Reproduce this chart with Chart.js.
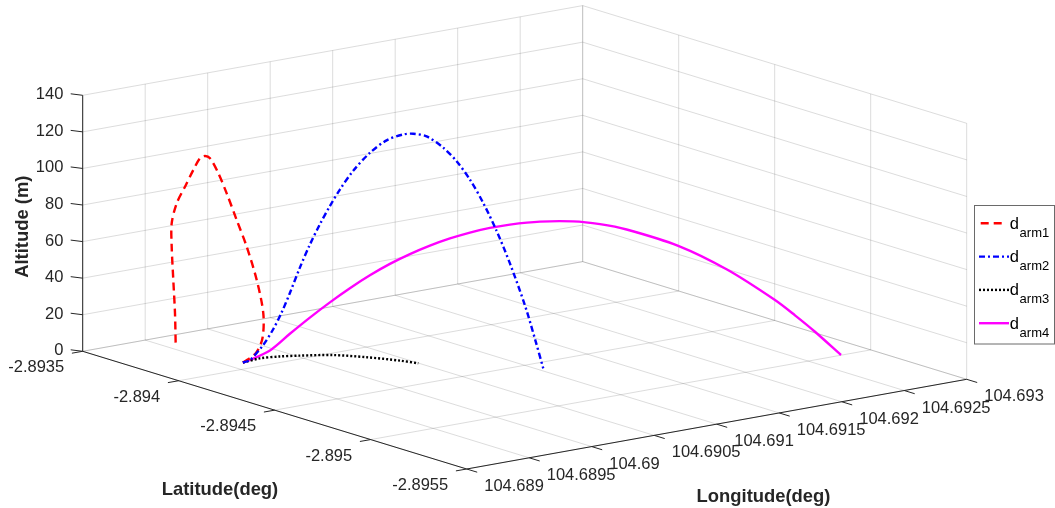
<!DOCTYPE html>
<html>
<head>
<meta charset="utf-8">
<script src="https://cdn.jsdelivr.net/npm/chart.js@4.4.1/dist/chart.umd.min.js"></script>
<style>
html,body{margin:0;padding:0;background:#ffffff;}
#wrap{position:relative;width:1055px;height:508px;}
</style>
</head>
<body>
<div id="wrap"><canvas id="c"></canvas></div>
<script>
// ---------- axis ticks ----------
const latTicks = [-2.8935, -2.894, -2.8945, -2.895, -2.8955];
const latTickLabels = ['-2.8935', '-2.894', '-2.8945', '-2.895', '-2.8955'];
const lonTicks = [104.689, 104.6895, 104.69, 104.6905, 104.691, 104.6915, 104.692, 104.6925, 104.693];
const lonTickLabels = ['104.689', '104.6895', '104.69', '104.6905', '104.691', '104.6915', '104.692', '104.6925', '104.693'];
const altTicks = [0, 20, 40, 60, 80, 100, 120, 140];
const altTickLabels = ['0', '20', '40', '60', '80', '100', '120', '140'];

const latTitle = 'Latitude(deg)';
const lonTitle = 'Longitude(deg)';
const altTitle = 'Altitude (m)';

// ---------- legend ----------
const legendMain = 'd';
const legendSubs = ['arm1', 'arm2', 'arm3', 'arm4'];

// ---------- series (latitude, longitude, altitude) ----------
const arm1Lat = [-2.8939284,-2.8939979,-2.8940335,-2.8940394,-2.8940068,-2.8939565,-2.8939061,-2.8938558,-2.8938138,-2.8937723,-2.8937481,-2.8937238,-2.8936907,-2.8936492,-2.8936077,-2.8935834,-2.8935852,-2.8935953,-2.8936059,-2.8936113];
const arm1Lon = [104.6896244,104.6896217,104.689619,104.6896163,104.6896136,104.6896109,104.6896082,104.6896055,104.6896028,104.6896001,104.6895974,104.6895947,104.689592,104.6895892,104.6895865,104.6895838,104.6895811,104.6895784,104.6895757,104.689573];
const arm1Alt = [0,7.5,16.9,30.6,47.8,64.4,77.4,90.4,100.1,107.0,107.5,105.5,98.0,87.6,77.2,65.5,52.8,35.0,17.1,0];

const arm2Lat = [-2.893928,-2.8939429,-2.8939713,-2.8939926,-2.8940105,-2.8940282,-2.8940495,-2.8940708,-2.8940921,-2.8941134,-2.8941347,-2.8941631,-2.8941987,-2.8942342,-2.8942696,-2.8942909,-2.8943195,-2.8943549,-2.8943834,-2.8944118,-2.8944401,-2.8944687,-2.894497,-2.894529,-2.8945503,-2.894568];
const arm2Lon = [104.689624,104.6896571,104.68972,104.6897673,104.689807,104.6898462,104.6898935,104.6899408,104.6899881,104.6900354,104.6900827,104.6901456,104.6902245,104.6903035,104.690382,104.6904293,104.6904926,104.6905711,104.6906345,104.6906974,104.6907603,104.6908236,104.6908865,104.6909575,104.6910048,104.691044];
const arm2Alt = [0,1.4,9.8,18.5,27.7,38.5,52.5,65.2,76.4,86.5,95.6,106.0,116.0,123.0,126.4,126.9,125.6,119.6,112.3,102.4,89.8,74.6,57.0,34.2,16.0,0];

const arm3Lat = [-2.893928,-2.8939616,-2.894001,-2.8940405,-2.8941055,-2.8941723,-2.894238,-2.894274];
const arm3Lon = [104.689624,104.6897086,104.689808,104.6899074,104.6900713,104.6902396,104.6904053,104.690496];
const arm3Alt = [0,2.3,3.4,3.9,4.3,3.2,1.4,0];

const arm4Lat = [-2.893928,-2.8939405,-2.8939764,-2.8940121,-2.8940478,-2.8940837,-2.8941194,-2.8941552,-2.894191,-2.8942268,-2.8942625,-2.8942984,-2.8943341,-2.8943698,-2.8944057,-2.8944594,-2.8945183,-2.8945667,-2.8946144,-2.8947067,-2.8947939,-2.8948797,-2.8949155,-2.8949513,-2.8949978];
const arm4Lon = [104.689624,104.6896608,104.689766,104.6898709,104.6899759,104.6900811,104.6901861,104.6902913,104.6903963,104.6905015,104.6906064,104.6907117,104.6908166,104.6909216,104.6910268,104.6911845,104.6913576,104.6914997,104.6916398,104.6919109,104.692167,104.692419,104.6925242,104.6926291,104.6927658];
const arm4Alt = [0,1.3,6.4,15.4,24.1,32.3,39.9,46.8,52.9,58.1,62.6,66.4,69.5,71.9,73.6,75.0,74.9,73.2,70.1,60.8,47.5,30.5,22.0,12.9,0];

// ---------- view geometry (orthographic 3-D view) ----------
const VIEW = { ox: 82.7, oy: 351.3, latDx: 384, latDy: 117.7, lonDx: 500, lonDy: -89.7, altDy: -256 };
const LAT0 = latTicks[0], LAT1 = latTicks[latTicks.length - 1];
const LON0 = lonTicks[0], LON1 = lonTicks[lonTicks.length - 1];
const ALT0 = altTicks[0], ALT1 = altTicks[altTicks.length - 1];

function proj(lat, lon, alt) {
  const a = (lat - LAT0) / (LAT1 - LAT0);
  const b = (lon - LON0) / (LON1 - LON0);
  const c = (alt - ALT0) / (ALT1 - ALT0);
  return { x: VIEW.ox + VIEW.latDx * a + VIEW.lonDx * b,
           y: VIEW.oy + VIEW.latDy * a + VIEW.lonDy * b + VIEW.altDy * c };
}

const GRID = 'rgba(38,38,38,0.16)';
const AXIS = '#262626';

function seg(p, q, color, width, order) {
  return { data: [p, q], showLine: true, borderColor: color, borderWidth: width,
           pointRadius: 0, pointHoverRadius: 0, fill: false, tension: 0, order: order };
}

const datasets = [];

const series = [
  { lat: arm1Lat, lon: arm1Lon, alt: arm1Alt, color: '#ff0000', dash: [8, 5], order: 1 },
  { lat: arm2Lat, lon: arm2Lon, alt: arm2Alt, color: '#0000ff', dash: [6, 3, 2, 3], order: 0 },
  { lat: arm3Lat, lon: arm3Lon, alt: arm3Alt, color: '#000000', dash: [2, 2], order: 2 },
  { lat: arm4Lat, lon: arm4Lon, alt: arm4Alt, color: '#ff00ff', dash: [], order: 3 }
];
series.forEach(s => {
  datasets.push({
    data: s.lat.map((v, i) => proj(v, s.lon[i], s.alt[i])),
    showLine: true, borderColor: s.color, borderWidth: 2.4, borderDash: s.dash,
    pointRadius: 0, pointHoverRadius: 0, fill: false, tension: 0.3, order: s.order
  });
});

// floor grid
latTicks.forEach(v => datasets.push(seg(proj(v, LON0, ALT0), proj(v, LON1, ALT0), GRID, 1, 30)));
lonTicks.forEach(v => datasets.push(seg(proj(LAT0, v, ALT0), proj(LAT1, v, ALT0), GRID, 1, 30)));
// back wall at first latitude
altTicks.forEach(v => datasets.push(seg(proj(LAT0, LON0, v), proj(LAT0, LON1, v), GRID, 1, 30)));
lonTicks.forEach(v => datasets.push(seg(proj(LAT0, v, ALT0), proj(LAT0, v, ALT1), GRID, 1, 30)));
// back wall at last longitude
altTicks.forEach(v => datasets.push(seg(proj(LAT0, LON1, v), proj(LAT1, LON1, v), GRID, 1, 30)));
latTicks.forEach(v => datasets.push(seg(proj(v, LON1, ALT0), proj(v, LON1, ALT1), GRID, 1, 30)));
// axis lines
datasets.push(seg(proj(LAT0, LON0, ALT0), proj(LAT1, LON0, ALT0), AXIS, 1, 20));
datasets.push(seg(proj(LAT1, LON0, ALT0), proj(LAT1, LON1, ALT0), AXIS, 1, 20));
datasets.push(seg(proj(LAT0, LON0, ALT0), proj(LAT0, LON0, ALT1), AXIS, 1, 20));

const FONT = '"Liberation Sans", Arial, Helvetica, sans-serif';

const axes3d = {
  id: 'axes3d',
  afterDraw(chart) {
    const ctx = chart.ctx;
    const X = v => chart.scales.x.getPixelForValue(v);
    const Y = v => chart.scales.y.getPixelForValue(v);
    ctx.save();
    ctx.strokeStyle = AXIS; ctx.fillStyle = AXIS; ctx.lineWidth = 1;
    ctx.font = '16.5px ' + FONT;
    // latitude ticks
    ctx.textAlign = 'right'; ctx.textBaseline = 'middle';
    latTicks.forEach((v, i) => {
      const p = proj(v, LON0, ALT0); const px = X(p.x), py = Y(p.y);
      ctx.beginPath(); ctx.moveTo(px, py); ctx.lineTo(px - 10.8, py + 1.9); ctx.stroke();
      ctx.fillText(latTickLabels[i], px - 18.5, py + 16.5);
    });
    // longitude ticks
    ctx.textAlign = 'left';
    lonTicks.forEach((v, i) => {
      const p = proj(LAT1, v, ALT0); const px = X(p.x), py = Y(p.y);
      ctx.beginPath(); ctx.moveTo(px, py); ctx.lineTo(px + 10.5, py + 3.2); ctx.stroke();
      ctx.fillText(lonTickLabels[i], px + 17.5, py + 17.5);
    });
    // altitude ticks
    ctx.textAlign = 'right';
    altTicks.forEach((v, i) => {
      const p = proj(LAT0, LON0, v); const px = X(p.x), py = Y(p.y);
      ctx.beginPath(); ctx.moveTo(px, py); ctx.lineTo(px - 12, py - 1.5); ctx.stroke();
      ctx.fillText(altTickLabels[i], px - 19.3, py - 0.5);
    });
    // axis titles
    ctx.font = 'bold 18.4px ' + FONT;
    ctx.textAlign = 'center'; ctx.textBaseline = 'middle';
    ctx.fillText(latTitle, 220, 490);
    ctx.fillText(lonTitle, 763.5, 496.5);
    ctx.save(); ctx.translate(22.7, 226.7); ctx.rotate(-Math.PI / 2);
    ctx.fillText(altTitle, 0, 0); ctx.restore();

    // legend
    ctx.fillStyle = '#ffffff';
    ctx.fillRect(974.5, 205.5, 80, 138.5);
    ctx.strokeStyle = '#6a6a6a'; ctx.lineWidth = 1;
    ctx.strokeRect(974.5, 205.5, 80, 138.5);
    series.forEach((s, k) => {
      const y = 223.3 + 33.3 * k;
      ctx.strokeStyle = s.color; ctx.lineWidth = 2.4; ctx.setLineDash(s.dash);
      ctx.beginPath(); ctx.moveTo(k === 0 ? 980.7 : 979, y); ctx.lineTo(k === 0 ? 1002 : 1009, y); ctx.stroke();
      ctx.setLineDash([]);
      ctx.fillStyle = '#000000'; ctx.textAlign = 'left'; ctx.textBaseline = 'alphabetic';
      ctx.font = '16.5px ' + FONT;
      ctx.fillText(legendMain, 1009.8, y + 5.3);
      ctx.font = '13px ' + FONT;
      ctx.fillText(legendSubs[k], 1019.6, y + 13.4);
    });
    ctx.restore();
  }
};

new Chart(document.getElementById('c'), {
  type: 'scatter',
  data: { datasets: datasets },
  options: {
    responsive: true, maintainAspectRatio: false, animation: false,
    layout: { padding: 0 },
    plugins: { legend: { display: false }, tooltip: { enabled: false } },
    events: [],
    scales: {
      x: { type: 'linear', min: 0, max: 1055, display: false },
      y: { type: 'linear', min: 0, max: 508, reverse: true, display: false }
    }
  },
  plugins: [axes3d]
});
</script>
</body>
</html>
